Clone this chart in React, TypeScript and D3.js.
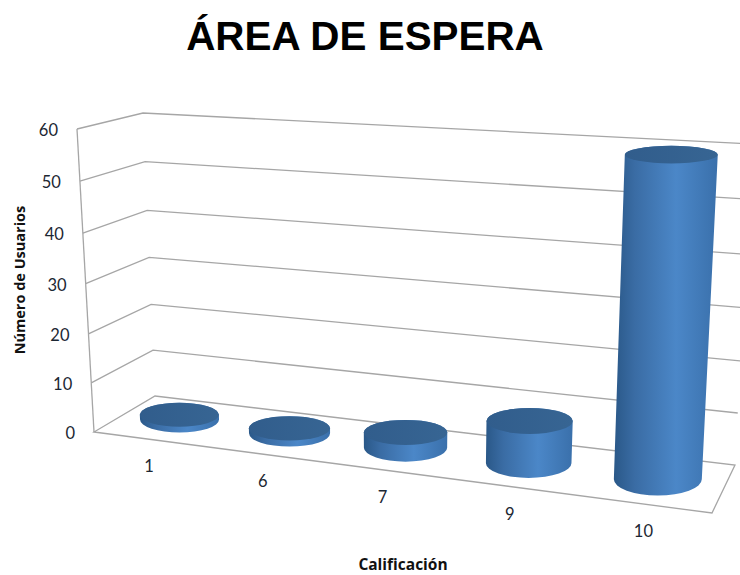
import React from "react";
import * as d3 from "d3";

// Survey results: how many users gave each rating
const categories = ["1", "6", "7", "9", "10"];
const usuarios = [1, 1, 3, 8, 58];
const valueTicks = [0, 10, 20, 30, 40, 50, 60];

const WIDTH = 740;
const HEIGHT = 575;

type Pt = [number, number];

// Box corners of the 3D plot: floor and the level of the top tick
const floor = { fl: [94, 432] as Pt, fr: [712, 513] as Pt, bl: [155, 396] as Pt, br: [735, 465] as Pt };
const ceil = { fl: [77, 129] as Pt, fr: [730, 148] as Pt, bl: [143, 113] as Pt, br: [752, 144] as Pt };

// Height along an upright edge; the ticks close up slightly towards the floor
const heightScale = d3.scaleLinear().domain(valueTicks).range([0, 0.162, 0.324, 0.49, 0.656, 0.828, 1]);

// Category slots across the floor, foreshortened towards the left
const band = d3.scaleBand<string>().domain(categories).range([0, 1]);
const across = d3
  .scaleLinear()
  .domain([0, 0.1, 0.3, 0.5, 0.7, 0.9, 1])
  .range([0, 0.089, 0.273, 0.467, 0.673, 0.889, 1]);

const mix = (a: Pt, b: Pt, t: number): Pt => [a[0] + (b[0] - a[0]) * t, a[1] + (b[1] - a[1]) * t];

// u runs left to right, d front to back, v is the chart value
function project(u: number, d: number, v: number): Pt {
  const t = heightScale(v);
  const fl = mix(floor.fl, ceil.fl, t);
  const fr = mix(floor.fr, ceil.fr, t);
  const bl = mix(floor.bl, ceil.bl, t);
  const br = mix(floor.br, ceil.br, t);
  return mix(mix(fl, fr, u), mix(bl, br, u), d);
}

const line = (pts: Pt[], close = false) => {
  const p = d3.path();
  pts.forEach((q, i) => (i ? p.lineTo(q[0], q[1]) : p.moveTo(q[0], q[1])));
  if (close) p.closePath();
  return p.toString();
};

const COLUMN_DEPTH = 0.53;
const GRID = "#a6a6a6";
const INK = "#1c2733";
const LABEL_FONT = "Lato, 'Open Sans', sans-serif";
const TITLE_FONT = "'Open Sans', Lato, sans-serif";

function Column({ category, value }: { category: string; value: number }) {
  const u = across((band(category) as number) + band.bandwidth() / 2);
  const base = project(u, COLUMN_DEPTH, 0);
  const top = project(u, COLUMN_DEPTH, value);
  const rxBase = 39 + 5.6 * u;
  const rxTop = rxBase + value * 0.043;
  const ryBase = 13 + 4 * u * u;
  const ryTop = ryBase - 1 - value * 0.11;
  const side =
    `M${base[0] - rxBase},${base[1]}` +
    `L${top[0] - rxTop},${top[1]}` +
    `A${rxTop},${ryTop} 0 0 1 ${top[0] + rxTop},${top[1]}` +
    `L${base[0] + rxBase},${base[1]}` +
    `A${rxBase},${ryBase} 0 0 1 ${base[0] - rxBase},${base[1]}Z`;
  return (
    <g>
      <path d={side} fill="url(#cylinderSide)" />
      <ellipse cx={top[0]} cy={top[1]} rx={rxTop} ry={ryTop} fill="url(#cylinderTop)" />
    </g>
  );
}

export default function App() {
  return (
    <svg
      width={WIDTH}
      height={HEIGHT}
      viewBox={`0 0 ${WIDTH} ${HEIGHT}`}
      style={{ position: "absolute", left: 0, top: 0, display: "block", background: "#fff" }}
    >
      <defs>
        <linearGradient id="cylinderSide" x1="0" x2="1" y1="0" y2="0">
          <stop offset="0" stopColor="#2a5888" />
          <stop offset="0.2" stopColor="#3a6ca4" />
          <stop offset="0.6" stopColor="#4b87c8" />
          <stop offset="1" stopColor="#3a70ab" />
        </linearGradient>
        <linearGradient id="cylinderTop" x1="0" x2="1" y1="0" y2="0">
          <stop offset="0" stopColor="#315d8c" />
          <stop offset="1" stopColor="#376593" />
        </linearGradient>
      </defs>

      <text
        x={365}
        y={50}
        textAnchor="middle"
        fontFamily="'Liberation Sans', Arial, sans-serif"
        fontWeight="bold"
        fontSize={40.4}
        fill="#000"
      >
        ÁREA DE ESPERA
      </text>

      <g fill="none" stroke={GRID} strokeWidth={1.3}>
        <path d={line([project(0, 0, 60), project(0, 0, 0)])} />
        <path d={line([project(0, 0, 0), project(1, 0, 0), project(1, 1, 0), project(0, 1, 0)], true)} />
        {valueTicks
          .filter((v) => v > 0)
          .map((v) => (
            <path key={v} d={line([project(0, 0, v), project(0, 1, v), project(1, 1, v)])} />
          ))}
      </g>

      {categories.map((c, i) => (
        <Column key={c} category={c} value={usuarios[i]} />
      ))}

      <g fontFamily={LABEL_FONT} fontSize={16.5} fill={INK}>
        {valueTicks.map((v) => {
          const [x, y] = project(0, 0, v);
          return (
            <text key={v} x={x - 19} y={y + 3} textAnchor="end" dominantBaseline="middle">
              {v}
            </text>
          );
        })}
        {categories.map((c) => {
          const [x, y] = project(across((band(c) as number) + band.bandwidth() / 2), 0, 0);
          return (
            <text key={c} x={x} y={y + 29} textAnchor="middle" dominantBaseline="middle">
              {c}
            </text>
          );
        })}
      </g>

      <g fontFamily={TITLE_FONT} fontWeight="bold" fill="#111" textAnchor="middle">
        <text fontSize={14.5} transform="translate(25,280) rotate(-90)">
          Número de Usuarios
        </text>
        <text fontSize={15.5} x={403} y={570}>
          Calificación
        </text>
      </g>
    </svg>
  );
}
